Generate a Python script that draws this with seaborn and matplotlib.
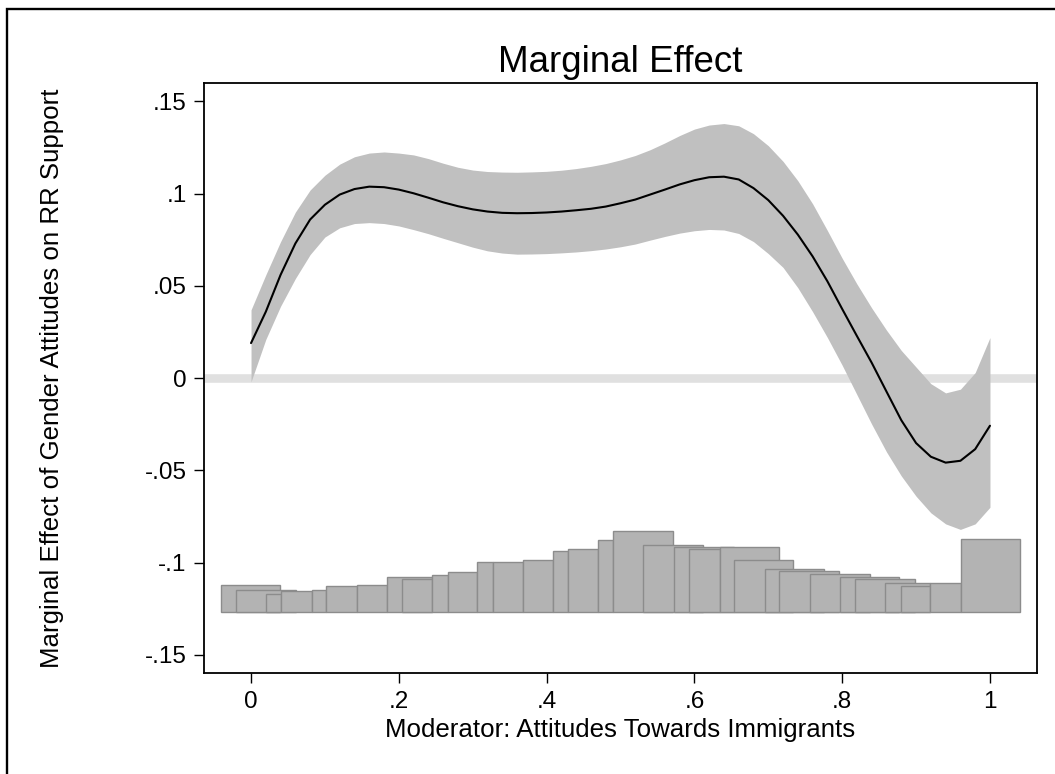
import numpy as np
import pandas as pd
import matplotlib
matplotlib.use("Agg")
import matplotlib.pyplot as plt
from matplotlib.patches import Rectangle
import seaborn as sns

# moderator grid and marginal effect with 95% band
moderator = [0.00, 0.02, 0.04, 0.06, 0.08, 0.10, 0.12, 0.14, 0.16, 0.18,
             0.20, 0.22, 0.24, 0.26, 0.28, 0.30, 0.32, 0.34, 0.36, 0.38,
             0.40, 0.42, 0.44, 0.46, 0.48, 0.50, 0.52, 0.54, 0.56, 0.58,
             0.60, 0.62, 0.64, 0.66, 0.68, 0.70, 0.72, 0.74, 0.76, 0.78,
             0.80, 0.82, 0.84, 0.86, 0.88, 0.90, 0.92, 0.94, 0.96, 0.98, 1.00]
effect = [0.019, 0.036, 0.056, 0.073, 0.086, 0.094, 0.0995, 0.1025, 0.1038, 0.1035,
          0.1022, 0.1002, 0.0978, 0.0953, 0.0932, 0.0915, 0.0903, 0.0896, 0.0894, 0.0895,
          0.0898, 0.0903, 0.0910, 0.0918, 0.0930, 0.0948, 0.0968, 0.0995, 0.1022, 0.1050,
          0.1073, 0.1089, 0.1092, 0.1077, 0.1030, 0.0965, 0.0880, 0.0778, 0.0660, 0.0525,
          0.0375, 0.0228, 0.0083, -0.0073, -0.0228, -0.0352, -0.0426, -0.0458, -0.0448, -0.0385, -0.0258]
upper = [0.037, 0.056, 0.074, 0.090, 0.102, 0.110, 0.116, 0.120, 0.122, 0.1226,
         0.122, 0.121, 0.119, 0.1165, 0.1143, 0.1128, 0.1120, 0.1117, 0.1116, 0.1118,
         0.1121, 0.1127, 0.1136, 0.1148, 0.1163, 0.1183, 0.1207, 0.1238, 0.1275, 0.1315,
         0.1350, 0.1372, 0.1380, 0.1368, 0.1325, 0.1260, 0.1175, 0.1070, 0.0945, 0.0800,
         0.065, 0.051, 0.038, 0.026, 0.015, 0.006, -0.003, -0.008, -0.006, 0.003, 0.022]
lower = [-0.002, 0.021, 0.039, 0.054, 0.067, 0.0765, 0.0815, 0.0838, 0.0843, 0.0838,
         0.0825, 0.0805, 0.0783, 0.0758, 0.0734, 0.0710, 0.0690, 0.0678, 0.0672, 0.0673,
         0.0675, 0.0679, 0.0684, 0.0691, 0.0700, 0.0712, 0.0727, 0.0748, 0.0768, 0.0786,
         0.0799, 0.0806, 0.0803, 0.0784, 0.0740, 0.0675, 0.0600, 0.0490, 0.0360, 0.0220,
         0.007, -0.009, -0.025, -0.040, -0.053, -0.064, -0.073, -0.079, -0.082, -0.079, -0.070]

# histogram of the moderator (overlapping bars, bottom of plot)
hist_left = [-0.041, -0.021, 0.020, 0.041, 0.082, 0.102, 0.143, 0.184, 0.204, 0.245,
             0.266, 0.306, 0.327, 0.368, 0.409, 0.429, 0.470, 0.490, 0.531, 0.572,
             0.593, 0.634, 0.654, 0.695, 0.715, 0.756, 0.797, 0.818, 0.858, 0.879,
             0.919, 0.961]
hist_right = [0.039, 0.061, 0.041, 0.082, 0.102, 0.143, 0.184, 0.245, 0.245, 0.266,
              0.306, 0.327, 0.368, 0.409, 0.429, 0.470, 0.490, 0.571, 0.612, 0.653,
              0.634, 0.714, 0.734, 0.775, 0.796, 0.837, 0.877, 0.898, 0.919, 0.919,
              0.961, 1.041]
hist_top = [-0.1123, -0.1150, -0.1172, -0.1154, -0.1147, -0.1127, -0.1120, -0.1078, -0.1089, -0.1069,
            -0.1053, -0.0997, -0.0997, -0.0988, -0.0939, -0.0928, -0.0879, -0.0830, -0.0906, -0.0914,
            -0.0928, -0.0917, -0.0984, -0.1035, -0.1047, -0.1063, -0.1078, -0.1089, -0.1112, -0.1127,
            -0.1112, -0.0872]
hist_base = -0.127

x_ticks = [0, 0.2, 0.4, 0.6, 0.8, 1.0]
x_ticklabels = ["0", ".2", ".4", ".6", ".8", "1"]
y_ticks = [0.15, 0.1, 0.05, 0, -0.05, -0.1, -0.15]
y_ticklabels = [".15", ".1", ".05", "0", "-.05", "-.1", "-.15"]

df = pd.DataFrame({"moderator": moderator, "effect": effect,
                   "upper": upper, "lower": lower})
hist = pd.DataFrame({"left": hist_left, "right": hist_right, "top": hist_top})
hist["width"] = hist["right"] - hist["left"]
hist["height"] = hist["top"] - hist_base

sns.set_style("ticks")
plt.rcParams["font.family"] = ["Liberation Sans", "DejaVu Sans"]

fig = plt.figure(figsize=(10.55, 7.74), dpi=100)
ax = fig.add_axes([0.1934, 0.1301, 0.7895, 0.7627])

ax.axhline(0, color="#e0e0e0", lw=6.2, zorder=1)
ax.fill_between(df["moderator"], df["lower"], df["upper"], color="#c0c0c0", lw=0, zorder=2)
sns.lineplot(data=df, x="moderator", y="effect", color="black", lw=1.5, ax=ax, zorder=3)
ax.bar(hist["left"], hist["height"], width=hist["width"], bottom=hist_base, align="edge",
       color="#b3b3b3", edgecolor="#8c8c8c", lw=1.0, zorder=2)

ax.set_xlim(-0.0636, 1.0636)
ax.set_ylim(-0.16, 0.16)
ax.set_xticks(x_ticks)
ax.set_xticklabels(x_ticklabels)
ax.set_yticks(y_ticks)
ax.set_yticklabels(y_ticklabels)
ax.tick_params(axis="both", direction="out", length=7.5, width=1.0, color="black",
               labelsize=17.5, pad=5, labelcolor="black")
for s in ax.spines.values():
    s.set_visible(True)
    s.set_color("black")
    s.set_linewidth(1.3)

ax.set_title("Marginal Effect", fontsize=26.5, pad=8, color="black")
ax.set_xlabel("Moderator: Attitudes Towards Immigrants", fontsize=18.6, labelpad=4, color="black")
ax.set_ylabel("Marginal Effect of Gender Attitudes on RR Support", fontsize=18.6, labelpad=58, color="black")

# outer graph region frame (only top and left edges fall inside the image)
fig.add_artist(Rectangle((7 / 1055, -0.1), 1.2, (774 - 9) / 774 + 0.1,
                         transform=fig.transFigure, fill=False, lw=1.7, ec="black"))

fig.savefig("out.png", dpi=100, facecolor="white")
